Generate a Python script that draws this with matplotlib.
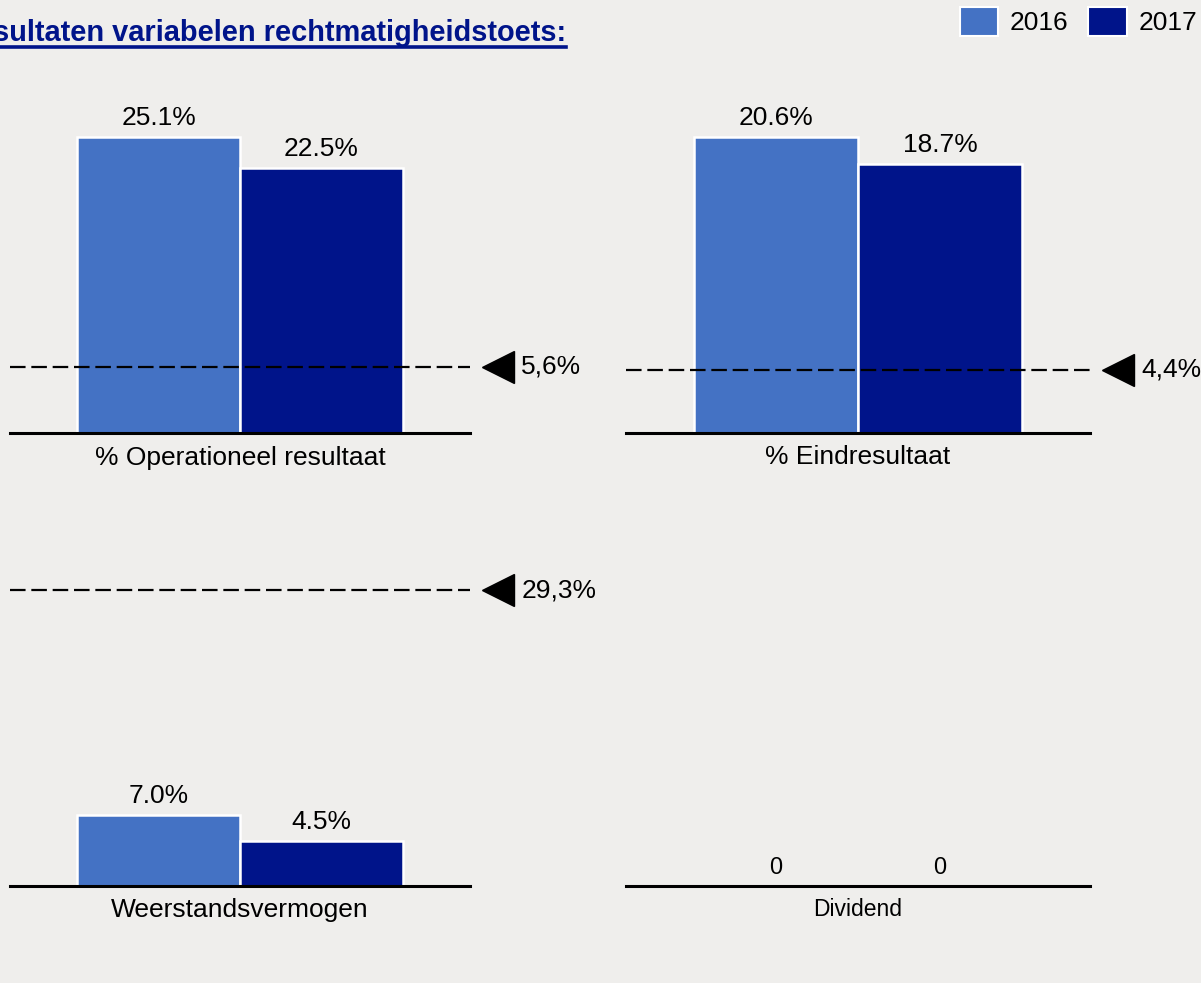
import matplotlib
matplotlib.use('Agg')
import matplotlib.pyplot as plt
from matplotlib.patches import Patch

plt.rcParams['font.family'] = ['Liberation Sans', 'DejaVu Sans']

# Data
years = ['2016', '2017']
categories = ['% Operationeel resultaat', '% Eindresultaat', 'Weerstandsvermogen', 'Dividend']
values_2016 = [25.1, 20.6, 7.0, 0]
values_2017 = [22.5, 18.7, 4.5, 0]
thresholds = [5.6, 4.4, 29.3, None]
threshold_labels = ['5,6%', '4,4%', '29,3%', None]
value_labels_2016 = ['25.1%', '20.6%', '7.0%', '0']
value_labels_2017 = ['22.5%', '18.7%', '4.5%', '0']
title = 'Resultaten variabelen rechtmatigheidstoets:'

# Styling
bg = '#EFEEEC'
c2016 = '#4472C4'
c2017 = '#00148A'
colors = [c2016, c2017]

W, H = 1201, 983
fig = plt.figure(figsize=(W / 100, H / 100), dpi=100, facecolor=bg)

# panel boxes in pixels: left, right, baseline y
boxes = [(10, 470, 433), (626, 1090, 433), (10, 470, 886), (626, 1090, 886)]
ax_h = 333
ytops = [28.24, 23.17, 33.0, 10]
label_sizes = [19, 19, 19, 16.5]
value_sizes = [19, 19, 19, 17]

for i, (x0, x1, yb) in enumerate(boxes):
    ax = fig.add_axes([x0 / W, 1 - yb / H, (x1 - x0) / W, ax_h / H])
    ax.set_facecolor(bg)
    ax.set_xlim(-1.415, 1.415)
    ax.set_ylim(0, ytops[i])
    for s in ['top', 'left', 'right']:
        ax.spines[s].set_visible(False)
    ax.spines['bottom'].set_linewidth(2.2)
    ax.spines['bottom'].set_zorder(5)
    ax.set_xticks([])
    ax.set_yticks([])

    vals = [values_2016[i], values_2017[i]]
    labs = [value_labels_2016[i], value_labels_2017[i]]
    xs = [-0.5, 0.5]
    ax.bar(xs, vals, width=1.0, color=colors, edgecolor='white', linewidth=1.8, zorder=2)
    for x, v, lab in zip(xs, vals, labs):
        ax.annotate(lab, (x, v), xytext=(0, 5), textcoords='offset points',
                    ha='center', va='bottom', fontsize=value_sizes[i])

    if thresholds[i] is not None:
        t = thresholds[i]
        ax.plot([-1.415, 1.415], [t, t], color='black', lw=1.6,
                dashes=(7, 2.6), zorder=3, clip_on=False)
        ax.plot([1.585], [t], marker='<', ms=23, color='black', clip_on=False, zorder=4)
        ax.text(1.73, t, threshold_labels[i], ha='left', va='center', fontsize=19,
                clip_on=False)

    ax.annotate(categories[i], (0.5, 0), xycoords='axes fraction', xytext=(0, -9),
                textcoords='offset points', ha='center', va='top', fontsize=label_sizes[i])

# title (cut off at left edge, as in the original) with underline
fig.text(566 / W, 1 - 41 / H, title, ha='right', va='baseline', fontsize=20.9,
         fontweight='bold', color=c2017)
fig.add_artist(plt.Line2D([0, 566 / W], [1 - 47 / H, 1 - 47 / H], color=c2017, lw=2.6,
                          transform=fig.transFigure))

# legend
handles = [Patch(facecolor=c, edgecolor='white', linewidth=1.5) for c in colors]
fig.legend(handles, years, loc='upper right', bbox_to_anchor=(1.01, 1.009), ncol=2,
           frameon=False, fontsize=19, handlelength=1.45, handleheight=1.3,
           handletextpad=0.45, columnspacing=0.75, borderaxespad=0.2)

fig.savefig('out.png', dpi=100, facecolor=bg)
